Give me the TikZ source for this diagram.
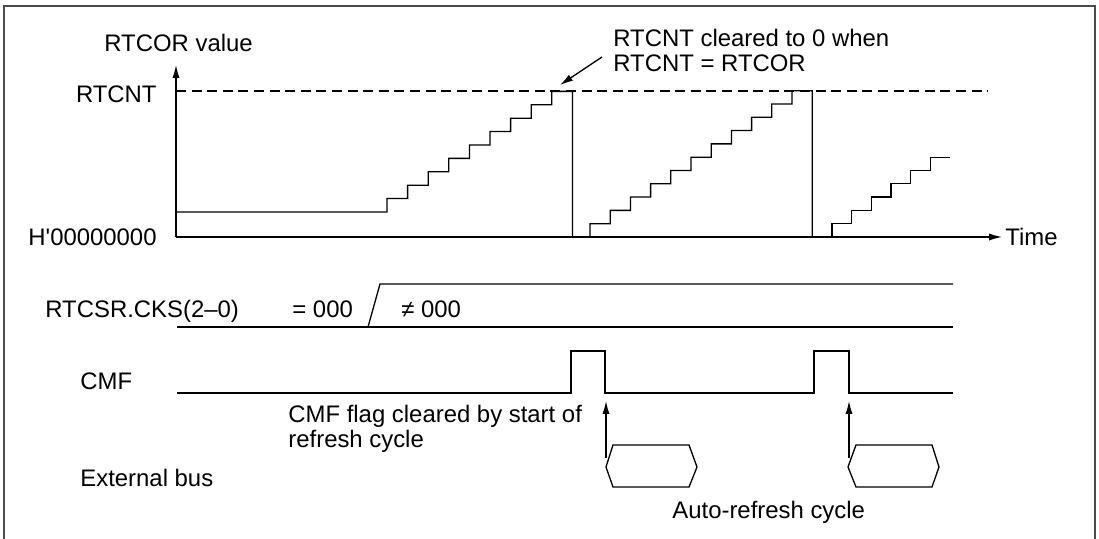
\documentclass[tikz,border=0pt]{standalone}
\usepackage{fontspec}
\setmainfont{Liberation Sans}
\usetikzlibrary{arrows.meta}

\begin{document}
\begin{tikzpicture}[x=0.5pt,y=-0.5pt,
  every node/.style={font=\fontsize{11.95}{12.5}\selectfont, inner sep=0pt},
  lbl/.style={anchor=base west},
  lblr/.style={anchor=base east},
  sig/.style={line width=0.65pt},
  tip/.style={-{Latex[length=6.5pt,width=3.6pt]}}]
\useasboundingbox (0,0) rectangle (1099,539);
\draw[line width=1pt, black!70] (4,539) -- (4,6) -- (1095,6) -- (1095,539);

\node[lbl] (val) at (104,52) {RTCOR value};
\node[lblr] (cnt) at (157,103) {RTCNT};
\node[lblr] (zero) at (157,246) {H\textquotesingle 00000000};
\node[lbl] (time) at (1005,246) {Time};
\node[lbl] (clrA) at (613,47) {RTCNT cleared to 0 when};
\node[lbl] (clrB) at (613,72) {RTCNT = RTCOR};

\coordinate (O) at (176,237);
\coordinate (ytop) at (176,65);
\coordinate (xend) at (1002,237);
\coordinate (clrtail) at (602,57);
\coordinate (peak) at (560,85);

\draw[sig, tip] (O) -- (ytop);
\draw[sig, tip] (O) -- (xend);
\draw[sig, dash pattern=on 5pt off 2.8pt] (176,91) -- (988,91);
\draw[sig, tip] (clrtail) -- (peak);

\draw[sig] (176,212) -- (387,212)
  -- ++(0,-13.4) -- ++(20.6,0) -- ++(0,-13.4) -- ++(20.6,0)
  -- ++(0,-13.4) -- ++(20.6,0) -- ++(0,-13.4) -- ++(20.6,0)
  -- ++(0,-13.4) -- ++(20.6,0) -- ++(0,-13.4) -- ++(20.6,0)
  -- ++(0,-13.4) -- ++(20.6,0) -- ++(0,-13.4) -- ++(20.6,0)
  -- ++(0,-13.4) -- ++(20.6,0) -- (572.4,237);

\draw[sig] (572.4,237) -- (590,237)
  -- ++(0,-13.3) -- ++(20.2,0) -- ++(0,-13.3) -- ++(20.2,0)
  -- ++(0,-13.3) -- ++(20.2,0) -- ++(0,-13.3) -- ++(20.2,0)
  -- ++(0,-13.3) -- ++(20.2,0) -- ++(0,-13.3) -- ++(20.2,0)
  -- ++(0,-13.3) -- ++(20.2,0) -- ++(0,-13.3) -- ++(20.2,0)
  -- ++(0,-13.3) -- ++(20.2,0) -- ++(0,-13.3) -- ++(20.2,0)
  -- ++(0,-13.3) -- ++(20.2,0) -- (812.2,237);

\draw[sig] (812.2,237) -- (832,237)
  -- ++(0,-13.3) -- ++(19.7,0) -- ++(0,-13.3) -- ++(19.7,0)
  -- ++(0,-13.3) -- ++(19.7,0) -- ++(0,-13.3) -- ++(19.7,0)
  -- ++(0,-13.3) -- ++(19.7,0) -- ++(0,-13.3) -- ++(19.7,0);

\node[lbl] (cks) at (45,318) {RTCSR.CKS(2–0)};
\node[lbl] (eq) at (292,318) {= 000};
\node[lbl] (ne) at (401,318) {≠ 000};
\node[lbl] (cmf) at (80,390) {CMF};
\node[lbl] (flagA) at (288,423) {CMF flag cleared by start of};
\node[lbl] (flagB) at (288,448) {refresh cycle};
\node[lbl] (bus) at (80,487) {External bus};
\node[lbl] (auto) at (672,519) {Auto-refresh cycle};

\draw[sig] (177,327) -- (953,327);
\draw[sig] (368,327) -- (380,284) -- (953,284);

\draw[sig] (177,393) -- (571,393) -- (571,351) -- (605,351) -- (605,393)
  -- (814,393) -- (814,351) -- (849,351) -- (849,393) -- (953,393);

\draw[sig] (606,467) -- (613,445) -- (689,445) -- (697,467) -- (689,487) -- (613,487) -- cycle;
\draw[sig] (848,467) -- (856,445) -- (932,445) -- (939,467) -- (932,487) -- (856,487) -- cycle;

\coordinate (busA) at (606,458);
\coordinate (fallA) at (606,401);
\coordinate (busB) at (849,458);
\coordinate (fallB) at (849,401);
\draw[sig, tip] (busA) -- (fallA);
\draw[sig, tip] (busB) -- (fallB);
\end{tikzpicture}
\end{document}
